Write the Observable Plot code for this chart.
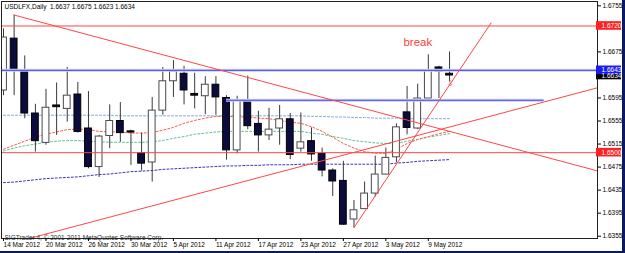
<!DOCTYPE html>
<html><head><meta charset="utf-8">
<script src="https://cdn.jsdelivr.net/npm/d3@7"></script>
<script src="https://cdn.jsdelivr.net/npm/@observablehq/plot@0.6"></script>
<style>
html,body{margin:0;padding:0;background:#fff;}
#wrap{position:relative;width:625px;height:253px;background:#0b1a5e;overflow:hidden;}
#wrap svg{position:absolute;left:0;top:0;background:#fff;}
</style></head><body><div id="wrap"></div>
<script>
const symbol = "USDLFX,Daily";
const dates = ["14 Mar 2012","15 Mar 2012","16 Mar 2012","19 Mar 2012","20 Mar 2012","21 Mar 2012","22 Mar 2012","23 Mar 2012","26 Mar 2012","27 Mar 2012","28 Mar 2012","29 Mar 2012","30 Mar 2012","2 Apr 2012","3 Apr 2012","4 Apr 2012","5 Apr 2012","6 Apr 2012","9 Apr 2012","10 Apr 2012","11 Apr 2012","12 Apr 2012","13 Apr 2012","16 Apr 2012","17 Apr 2012","18 Apr 2012","19 Apr 2012","20 Apr 2012","23 Apr 2012","24 Apr 2012","25 Apr 2012","26 Apr 2012","27 Apr 2012","30 Apr 2012","1 May 2012","2 May 2012","3 May 2012","4 May 2012","7 May 2012","8 May 2012","9 May 2012","10 May 2012","11 May 2012"];
const open  = [1.6608,1.6698,1.6643,1.6568,1.6517,1.6582,1.6576,1.6601,1.6542,1.6475,1.6529,1.6555,1.6537,1.6499,1.6483,1.6573,1.6624,1.6637,1.6602,1.6598,1.6618,1.6595,1.6504,1.6589,1.6550,1.6530,1.6542,1.6558,1.6507,1.6520,1.6498,1.6469,1.6451,1.6384,1.6402,1.6429,1.6462,1.6492,1.6570,1.6542,1.6594,1.6648,1.6637];
const high  = [1.6715,1.6739,1.6668,1.6584,1.6610,1.6621,1.6648,1.6622,1.6606,1.6530,1.6583,1.6587,1.6539,1.6534,1.6596,1.6648,1.6660,1.6650,1.6638,1.6632,1.6632,1.6599,1.6598,1.6633,1.6572,1.6577,1.6582,1.6568,1.6569,1.6543,1.6508,1.6472,1.6485,1.6417,1.6449,1.6494,1.6508,1.6550,1.6615,1.6619,1.6670,1.6650,1.6675];
const low   = [1.6599,1.6599,1.6559,1.6501,1.6513,1.6530,1.6553,1.6534,1.6472,1.6457,1.6507,1.6518,1.6478,1.6468,1.6449,1.6565,1.6596,1.6583,1.6576,1.6566,1.6565,1.6487,1.6498,1.6540,1.6501,1.6521,1.6513,1.6488,1.6501,1.6485,1.6458,1.6424,1.6374,1.6369,1.6402,1.6423,1.6462,1.6483,1.6531,1.6540,1.6594,1.6594,1.6623];
const close = [1.6700,1.6643,1.6568,1.6520,1.6578,1.6579,1.6599,1.6536,1.6475,1.6528,1.6555,1.6534,1.6535,1.6481,1.6573,1.6624,1.6641,1.6608,1.6599,1.6618,1.6596,1.6504,1.6591,1.6546,1.6530,1.6540,1.6558,1.6496,1.6518,1.6497,1.6469,1.6450,1.6375,1.6400,1.6429,1.6462,1.6491,1.6544,1.6543,1.6594,1.6643,1.6641,1.6634];

// moving averages (dotted)
const maFast = [1.6506,1.6513,1.6520,1.6527,1.6532,1.6536,1.6540,1.6541,1.6540,1.6537,1.6536,1.6536,1.6534,1.6534,1.6535,1.6539,1.6544,1.6551,1.6556,1.6560,1.6563,1.6563,1.6562,1.6562,1.6560,1.6559,1.6556,1.6553,1.6551,1.6545,1.6537,1.6527,1.6516,1.6508,1.6502,1.6499,1.6499,1.6506,1.6516,1.6523,1.6528,1.6533,1.6537];
const maMid  = [1.6503,1.6508,1.6512,1.6515,1.6518,1.6520,1.6521,1.6521,1.6520,1.6519,1.6518,1.6518,1.6518,1.6518,1.6519,1.6521,1.6525,1.6528,1.6532,1.6534,1.6536,1.6537,1.6537,1.6537,1.6537,1.6537,1.6537,1.6537,1.6537,1.6534,1.6532,1.6528,1.6525,1.6521,1.6519,1.6517,1.6516,1.6516,1.6520,1.6523,1.6527,1.6530,1.6533];
const maLong = [1.6565,1.6565,1.6565,1.6565,1.6565,1.6565,1.6565,1.6565,1.6565,1.6565,1.6565,1.6564,1.6564,1.6564,1.6564,1.6564,1.6564,1.6564,1.6564,1.6564,1.6564,1.6564,1.6564,1.6564,1.6564,1.6564,1.6564,1.6564,1.6564,1.6563,1.6563,1.6562,1.6562,1.6561,1.6561,1.6560,1.6560,1.6560,1.6559,1.6559,1.6559,1.6559,1.6559];
const maSlow = [1.6448,1.6449,1.6451,1.6453,1.6455,1.6456,1.6457,1.6458,1.6460,1.6462,1.6463,1.6465,1.6467,1.6468,1.6469,1.6471,1.6472,1.6473,1.6474,1.6475,1.6476,1.6477,1.6477,1.6478,1.6478,1.6479,1.6479,1.6479,1.6480,1.6480,1.6480,1.6480,1.6480,1.6480,1.6480,1.6480,1.6480,1.6482,1.6483,1.6485,1.6486,1.6487,1.6488];

// drawn objects: [bar index, price]
const downTrend  = [[1, 1.6739], [56, 1.6468]];
const upTrend    = [[2, 1.6349], [56, 1.6613]];
const steepTrend = [[33, 1.6370], [45.9, 1.6725]];
const redLevels  = [1.6720, 1.6500];
const blueLevels = [1.6643];
const blueSegment = {from: 21, to: 50.9, price: 1.6591};
const annotation = {text: "break", i: 37.66, price: 1.6692};
const arrowMark = {text: "\u21E9", i: 42.1, price: 1.6620};

// right axis (labels hidden behind the price boxes are left out)
const priceTicks = [1.6755,1.6675,1.6595,1.6555,1.6515,1.6475,1.6435,1.6395,1.6355];
const priceBoxes = [
  {v: 1.6720, fill: "#ff2020"},
  {v: 1.6634, fill: "#000000"},
  {v: 1.6643, fill: "#1c1cf0"},
  {v: 1.6500, fill: "#ff2020"}
];
const dateTicks = [0,4,8,12,16,20,24,28,32,36,40];
const copyright = "SIGTrader 4, \u00A9 2001-2011 MetaQuotes Software Corp.";

const candles = dates.map((d, i) => ({i, date: d, open: open[i], high: high[i], low: low[i], close: close[i]}));
const ups = candles.filter(d => d.close >= d.open);
const downs = candles.filter(d => d.close < d.open);
const last = candles[candles.length - 1];
const header = `${symbol}  ${last.open.toFixed(4)} ${last.high.toFixed(4)} ${last.low.toFixed(4)} ${last.close.toFixed(4)}`;
const maRows = (arr) => arr.map((v, i) => ({i, v}));
const seg = (arr) => arr.map(([i, p]) => ({i, p}));

const xDomain = [-0.19, 55.93];
const yDomain = [1.6351, 1.67625];
const FS = 6.5;
const lineRed = "#ff4646";

const chart = Plot.plot({
  width: 622, height: 251,
  marginLeft: 1, marginRight: 25, marginTop: 1, marginBottom: 13,
  x: {type: "linear", domain: xDomain, axis: null},
  y: {type: "linear", domain: yDomain, axis: null},
  style: {fontFamily: "'Liberation Sans', Arial, sans-serif", fontSize: FS + "px", background: "#fff", overflow: "visible"},
  marks: [
    // moving averages
    Plot.line(maRows(maLong), {x: "i", y: "v", stroke: "#7fa9dc", strokeWidth: 1, strokeDasharray: "2,2", clip: true}),
    Plot.line(maRows(maSlow), {x: "i", y: "v", stroke: "#3535b8", strokeWidth: 1, strokeDasharray: "2,2", clip: true}),
    Plot.line(maRows(maMid), {x: "i", y: "v", stroke: "#5cc596", strokeWidth: 1, strokeDasharray: "2,2", clip: true}),
    Plot.line(maRows(maFast), {x: "i", y: "v", stroke: "#ff5a4a", strokeWidth: 1, strokeDasharray: "2,2", clip: true}),
    // candles
    Plot.ruleX(candles, {x: "i", y1: "low", y2: "high", stroke: "#3a3a3a", strokeWidth: 1, clip: true}),
    Plot.rect(ups, {x1: d => d.i - 0.32, x2: d => d.i + 0.32, y1: "open", y2: "close", fill: "#ffffff", stroke: "#4a4a4a", strokeWidth: 1, clip: true}),
    Plot.rect(downs, {x1: d => d.i - 0.32, x2: d => d.i + 0.32, y1: "open", y2: "close", fill: "#0b0b3d", stroke: "#000", strokeWidth: 1, clip: true}),
    // horizontal levels
    Plot.ruleY(blueLevels, {stroke: "#c9cdf5", strokeWidth: 3}),
    Plot.ruleY(blueLevels, {stroke: "#4040d8", strokeWidth: 1}),
    Plot.ruleY([blueSegment], {y: "price", x1: "from", x2: "to", stroke: "#c9cdf5", strokeWidth: 3}),
    Plot.ruleY([blueSegment], {y: "price", x1: "from", x2: "to", stroke: "#4848e0", strokeWidth: 1}),
    Plot.ruleY(redLevels, {stroke: lineRed, strokeWidth: 1}),
    // trend lines
    Plot.line(seg(downTrend), {x: "i", y: "p", stroke: lineRed, strokeWidth: 1, clip: true}),
    Plot.line(seg(upTrend), {x: "i", y: "p", stroke: lineRed, strokeWidth: 1, clip: true}),
    Plot.line(seg(steepTrend), {x: "i", y: "p", stroke: lineRed, strokeWidth: 1, clip: true}),
    // annotations
    Plot.text([annotation], {x: "i", y: "price", text: "text", textAnchor: "start", lineAnchor: "middle", fill: "#ff3c3c", fontSize: 11.5}),
    Plot.text([arrowMark], {x: "i", y: "price", text: "text", fill: "#ff4040", fontSize: 8}),
    Plot.text([header], {frameAnchor: "top-left", text: d => d, textAnchor: "start", lineAnchor: "top", dx: 3, dy: 2.5, fill: "#000", fontSize: FS}),
    Plot.text([copyright], {frameAnchor: "bottom-left", text: d => d, textAnchor: "start", lineAnchor: "bottom", dx: 3, dy: 1.5, fill: "#333", fontSize: FS}),
    // frame & axes
    Plot.frame({stroke: "#222"}),
    Plot.axisY(priceTicks, {anchor: "right", tickSize: 3, tickPadding: 2, tickFormat: d => d.toFixed(4), fontSize: FS, fill: "#000"}),
    Plot.axisX(dateTicks, {anchor: "bottom", tickSize: 3, tickPadding: 1, tickFormat: i => dates[i], textAnchor: "start", fontSize: FS, fill: "#000"}),
    // price boxes on the axis
    Plot.rect(priceBoxes, {x1: () => xDomain[1], x2: () => xDomain[1], y1: "v", y2: "v", insetLeft: -1, insetRight: -24, insetTop: -4.3, insetBottom: -4.3, fill: d => d.fill}),
    Plot.text(priceBoxes, {frameAnchor: "right", y: "v", text: d => d.v.toFixed(4), textAnchor: "start", dx: 4, fill: "#fff", fontSize: FS})
  ],
  color: {type: "identity"}
});
document.getElementById("wrap").appendChild(chart);
</script></body></html>
